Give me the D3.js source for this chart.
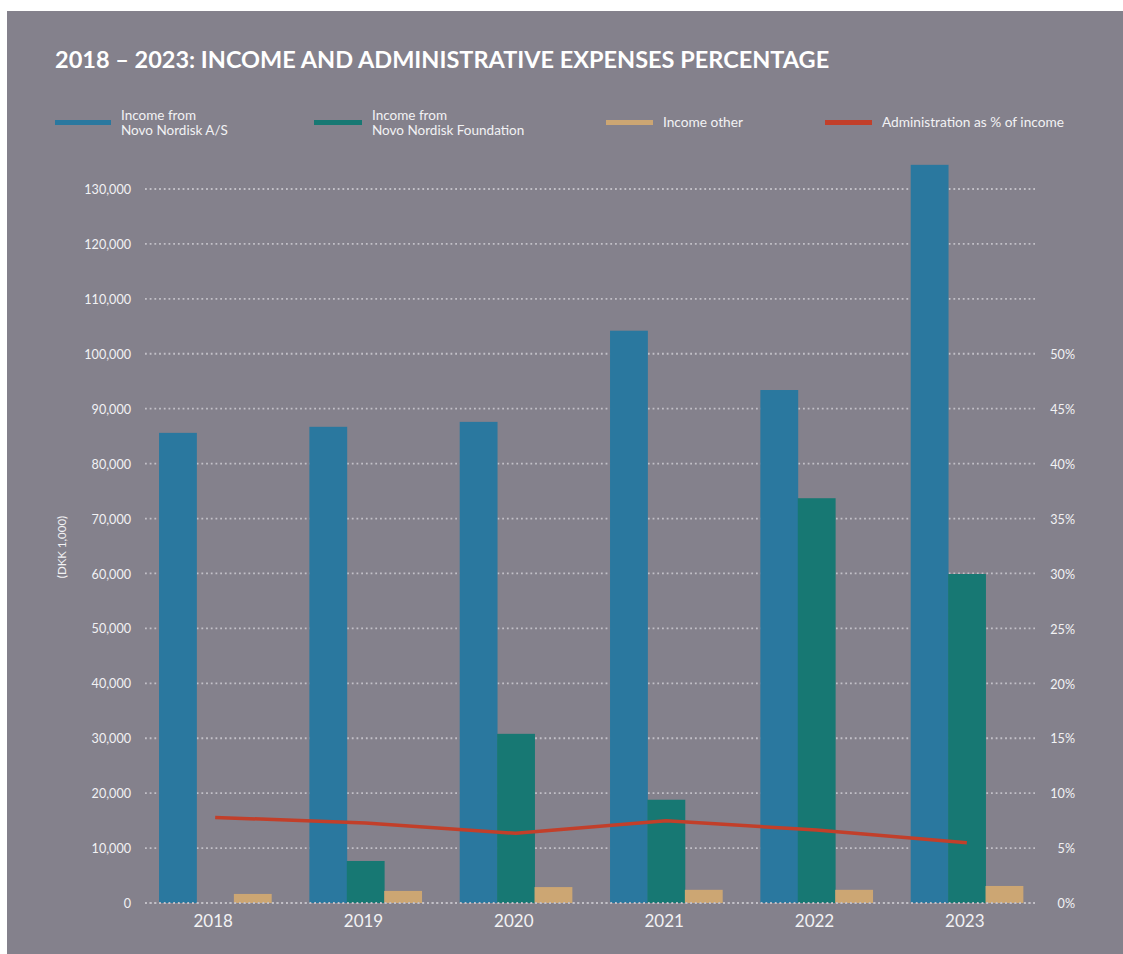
<!DOCTYPE html>
<html>
<head>
<meta charset="utf-8">
<script src="https://cdn.jsdelivr.net/npm/d3@7"></script>
<style>
  html, body { margin: 0; padding: 0; background: #ffffff; }
  svg { display: block; }
  text { font-family: Lato, "Open Sans", sans-serif; }
</style>
</head>
<body>
<svg id="chart" width="1123" height="954"></svg>
<script>
const years = ["2018", "2019", "2020", "2021", "2022", "2023"];
const incomeNovoNordiskAS = [85600, 86700, 87600, 104200, 93400, 134400];
const incomeFoundation = [0, 7650, 30800, 18800, 73700, 59900];
const incomeOther = [1650, 2200, 2900, 2400, 2400, 3100];
const adminPct = [7.8, 7.3, 6.35, 7.5, 6.65, 5.5];
const leftTicks = [0, 10000, 20000, 30000, 40000, 50000, 60000, 70000, 80000, 90000, 100000, 110000, 120000, 130000];
const rightTicks = [0, 5, 10, 15, 20, 25, 30, 35, 40, 45, 50];

const seriesNames = ["Income from\nNovo Nordisk A/S", "Income from\nNovo Nordisk Foundation", "Income other", "Administration as % of income"];
const colors = { blue: "#2a789f", teal: "#177873", tan: "#cca673", red: "#c23f2a", bg: "#84818c", grid: "#c2c0c7", text: "#f2f2f4" };

const svg = d3.select("#chart");
svg.append("rect").attr("x", 7).attr("y", 11).attr("width", 1116).attr("height", 943).attr("fill", colors.bg);

const x = d3.scaleBand().domain(years).range([141, 1041]).paddingInner(0.2533).paddingOuter(0.12);
const y = d3.scaleLinear().domain([0, 130000]).range([903, 189]);
const yR = d3.scaleLinear().domain([0, 50]).range([903, 354.3]);

// title
svg.append("text").attr("x", 55).attr("y", 68).attr("fill", "#ffffff")
  .attr("font-size", 23.5).attr("font-weight", 700)
  .text("2018 – 2023: INCOME AND ADMINISTRATIVE EXPENSES PERCENTAGE");

// legend
const legendItems = [
  { name: seriesNames[0], color: colors.blue, x: 55, w: 56 },
  { name: seriesNames[1], color: colors.teal, x: 314, w: 48 },
  { name: seriesNames[2], color: colors.tan, x: 606, w: 47 },
  { name: seriesNames[3], color: colors.red, x: 825, w: 47 }
];
const lg = svg.append("g");
legendItems.forEach(it => {
  lg.append("rect").attr("x", it.x).attr("y", 120).attr("width", it.w).attr("height", 5).attr("fill", it.color);
  const lines = it.name.split("\n");
  const tx = it.x + it.w + 10;
  if (lines.length === 1) {
    lg.append("text").attr("fill", colors.text).attr("font-size", 13.7).attr("x", tx).attr("y", 127).text(lines[0]);
  } else {
    lines.forEach((l, i) => lg.append("text").attr("fill", colors.text).attr("font-size", 13.5)
      .attr("x", tx).attr("y", 119.5 + i * 15.5).text(l));
  }
});

// grid lines
const grid = svg.append("g");
leftTicks.forEach(v => {
  grid.append("line").attr("x1", 145).attr("x2", 1035).attr("y1", y(v)).attr("y2", y(v))
    .attr("stroke", colors.grid).attr("stroke-width", 1.8).attr("stroke-dasharray", "1.8 2.9");
});

// left axis
const leftAxis = d3.axisLeft(y).tickValues(leftTicks).tickSize(0).tickPadding(0)
  .tickFormat(d => d3.format(",")(d));
const la = svg.append("g").attr("transform", "translate(131,0)").call(leftAxis);
la.select(".domain").remove();
la.selectAll("text").attr("fill", colors.text).attr("font-size", 12.6).attr("font-family", "Lato, sans-serif").attr("dy", "0.36em");

// right axis
const rightAxis = d3.axisRight(yR).tickValues(rightTicks).tickSize(0).tickPadding(0).tickFormat(d => d + "%");
const ra = svg.append("g").attr("transform", "translate(1075,0)").call(rightAxis);
ra.select(".domain").remove();
ra.selectAll("text").attr("fill", colors.text).attr("font-size", 12.6).attr("font-family", "Lato, sans-serif")
  .attr("text-anchor", "end").attr("dy", "0.36em");

// y axis title
svg.append("text").attr("transform", "translate(66,547) rotate(-90)").attr("text-anchor", "middle")
  .attr("fill", colors.text).attr("font-size", 11.5).text("(DKK 1,000)");

// bars
const sub = d3.scaleBand().domain(["a", "b", "c"]).range([0, x.bandwidth()]).padding(0);
const series = [
  { key: "a", values: incomeNovoNordiskAS, color: colors.blue },
  { key: "b", values: incomeFoundation, color: colors.teal },
  { key: "c", values: incomeOther, color: colors.tan }
];
const bars = svg.append("g");
series.forEach(s => {
  bars.selectAll(null).data(years).enter().append("rect")
    .attr("x", d => x(d) + sub(s.key))
    .attr("width", sub.bandwidth() + 0.4)
    .attr("y", (d, i) => y(s.values[i]))
    .attr("height", (d, i) => y(0) - y(s.values[i]))
    .attr("fill", s.color);
});

// zero line on top
svg.append("line").attr("x1", 145).attr("x2", 1035).attr("y1", y(0)).attr("y2", y(0))
  .attr("stroke", colors.grid).attr("stroke-width", 1.8).attr("stroke-dasharray", "1.8 2.9");

// x labels
const xAxis = d3.axisBottom(x).tickSize(0).tickPadding(0);
const xa = svg.append("g").attr("transform", "translate(-2,0)").call(xAxis);
xa.select(".domain").remove();
xa.selectAll(".tick text").attr("y", y(0) + 24).attr("dy", 0).attr("fill", colors.text)
  .attr("font-size", 17).attr("font-family", "Lato, sans-serif");

// admin line
const line = d3.line().x((d, i) => x(years[i]) + x.bandwidth() / 2).y(d => yR(d));
svg.append("path").datum(adminPct).attr("d", line).attr("fill", "none")
  .attr("stroke", colors.red).attr("stroke-width", 3.5);
</script>
</body>
</html>
